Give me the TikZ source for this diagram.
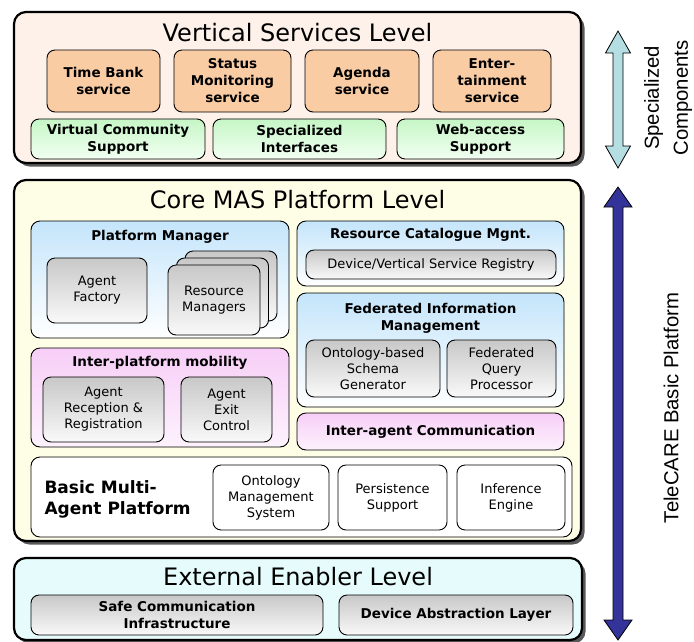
\documentclass[tikz,border=0pt]{standalone}
\usepackage{fontspec}
\setmainfont{DejaVu Sans}
\newfontfamily\arialFont{Liberation Sans}
\usepackage{tikz}
\usetikzlibrary{positioning}
\usetikzlibrary{shadows}
\definecolor{vertColor}{RGB}{253,241,233}
\definecolor{coreColor}{RGB}{254,253,230}
\definecolor{extColor}{RGB}{230,252,252}
\definecolor{orangeColor}{RGB}{250,204,164}
\definecolor{greenTopColor}{RGB}{198,246,198}
\definecolor{greenBotColor}{RGB}{242,255,242}
\definecolor{blueTopColor}{RGB}{196,229,251}
\definecolor{pinkTopColor}{RGB}{247,206,247}
\definecolor{pinkBotColor}{RGB}{253,242,253}
\definecolor{grayTopColor}{RGB}{200,200,200}
\definecolor{grayBotColor}{RGB}{249,249,249}
\definecolor{lightArrowColor}{RGB}{180,222,226}
\definecolor{darkArrowColor}{RGB}{51,51,153}
\newcommand*\titleFont{\fontsize{24}{28}\selectfont}
\newcommand*\headFont{\fontsize{13.5}{17}\selectfont\bfseries}
\newcommand*\plainFont{\fontsize{13}{16}\selectfont}
\newcommand*\sideFont{\arialFont\fontsize{20.3}{29}\selectfont}

\begin{document}
\begin{tikzpicture}[x=1pt,y=-1pt]

            \useasboundingbox (0,0) rectangle (694,641);

            \tikzstyle{levelBox} = [draw, line width=2.2pt, rounded corners=12pt, inner sep=0pt,
                drop shadow={shadow xshift=3.5pt, shadow yshift=-3.5pt, fill=black!65, opacity=1}];
            \tikzstyle{groupBox} = [draw, line width=0.9pt, rounded corners=9pt, inner sep=0pt];
            \tikzstyle{innerBox} = [draw, line width=0.9pt, rounded corners=8pt, inner sep=0pt, align=center];
            \tikzstyle{orangeBox} = [innerBox, fill=orangeColor, font=\headFont];
            \tikzstyle{greenBox} = [innerBox, top color=greenTopColor, bottom color=greenBotColor, font=\headFont];
            \tikzstyle{grayBox} = [innerBox, top color=grayTopColor, bottom color=grayBotColor, font=\plainFont];
            \tikzstyle{whiteBox} = [innerBox, fill=white, font=\plainFont];
            \tikzstyle{blueGroup} = [groupBox, top color=blueTopColor, bottom color=white];
            \tikzstyle{pinkGroup} = [groupBox, top color=pinkTopColor, bottom color=pinkBotColor];
            \tikzstyle{titleText} = [font=\titleFont, anchor=base];
            \tikzstyle{headText} = [font=\headFont, align=center];
            \tikzstyle{sideText} = [font=\sideFont, rotate=90, align=center];
            \tikzstyle{arrowShape} = [draw, line width=0.8pt, line join=miter];

            % vertical services
            \node[levelBox, fill=vertColor, minimum width=567pt, minimum height=151pt] (vert) at (297.5,87.5) {};
            \node[titleText] (vertTitle) at (297.5,41) {Vertical Services Level};
            \node[orangeBox, minimum width=113pt, minimum height=62pt] (timeBank) at (103.5,81) {Time Bank\\service};
            \node[orangeBox, minimum width=117pt, minimum height=62pt] (status) at (232.5,81) {Status\\Monitoring\\service};
            \node[orangeBox, minimum width=114pt, minimum height=62pt] (agenda) at (362,81) {Agenda\\service};
            \node[orangeBox, minimum width=118pt, minimum height=62pt] (enter) at (492,81) {Enter-\\tainment\\service};
            \node[greenBox, minimum width=174pt, minimum height=40pt] (community) at (118,139) {Virtual Community\\Support};
            \node[greenBox, minimum width=173pt, minimum height=40pt] (interfaces) at (299.5,139) {Specialized\\Interfaces};
            \node[greenBox, minimum width=167pt, minimum height=40pt] (webAccess) at (480.5,139) {Web-access\\Support};

            % core MAS platform
            \node[levelBox, fill=coreColor, minimum width=567pt, minimum height=361pt] (core) at (297.5,360.5) {};
            \node[titleText] (coreTitle) at (297.5,208) {Core MAS Platform Level};

            \node[blueGroup, minimum width=258pt, minimum height=117pt] (platMgr) at (160,279.5) {};
            \node[headText] (platMgrTitle) at (160,237) {Platform Manager};
            \node[grayBox, minimum width=100pt, minimum height=65pt] (factory) at (97,290.5) {Agent\\Factory};
            \node[grayBox, minimum width=92pt, minimum height=70pt] (resBack) at (231,286) {};
            \node[grayBox, minimum width=92pt, minimum height=70pt] (resMid) at (222.5,293) {};
            \node[grayBox, minimum width=92pt, minimum height=70pt] (resFront) at (214,300) {Resource\\Managers};

            \node[pinkGroup, minimum width=258pt, minimum height=99pt] (mobility) at (160,397.5) {};
            \node[headText] (mobilityTitle) at (160,363) {Inter-platform mobility};
            \node[grayBox, minimum width=121pt, minimum height=65pt] (reception) at (103.5,409.5) {Agent\\Reception \&\\Registration};
            \node[grayBox, minimum width=91pt, minimum height=65pt] (exit) at (226.5,409.5) {Agent\\Exit\\Control};

            \node[blueGroup, minimum width=267pt, minimum height=65pt] (catalogue) at (430.5,253.5) {};
            \node[headText] (catalogueTitle) at (430.5,235) {Resource Catalogue Mgnt.};
            \node[grayBox, minimum width=250pt, minimum height=29pt] (registry) at (431,264.5) {Device/Vertical Service Registry};

            \node[blueGroup, minimum width=267pt, minimum height=114pt] (fedInfo) at (430.5,350) {};
            \node[headText] (fedInfoTitle) at (430.5,318.5) {Federated Information\\Management};
            \node[grayBox, minimum width=134pt, minimum height=57pt] (schema) at (373,368.5) {Ontology-based\\Schema\\Generator};
            \node[grayBox, minimum width=109pt, minimum height=57pt] (query) at (501.5,368.5) {Federated\\Query\\Processor};

            \node[pinkGroup, minimum width=267pt, minimum height=37pt, font=\headFont] (interAgent) at (430.5,431.5) {Inter-agent Communication};

            \node[groupBox, fill=white, minimum width=541pt, minimum height=80pt] (basic) at (301.5,497) {};
            \node[font=\fontsize{17}{21}\selectfont\bfseries, align=left, anchor=west] (basicTitle) at (41,499) {Basic Multi-\\Agent Platform};
            \node[whiteBox, minimum width=116pt, minimum height=65pt] (ontology) at (271,497.5) {Ontology\\Management\\System};
            \node[whiteBox, minimum width=109pt, minimum height=65pt] (persistence) at (392.5,497.5) {Persistence\\Support};
            \node[whiteBox, minimum width=108pt, minimum height=65pt] (inference) at (511,497.5) {Inference\\Engine};

            % external enabler
            \node[levelBox, fill=extColor, minimum width=568pt, minimum height=82pt] (ext) at (298,599) {};
            \node[titleText] (extTitle) at (298,585) {External Enabler Level};
            \node[grayBox, font=\headFont, minimum width=292pt, minimum height=40pt] (safeComm) at (177,615) {Safe Communication\\Infrastructure};
            \node[grayBox, font=\headFont, minimum width=234pt, minimum height=40pt] (devAbstr) at (456,615) {Device Abstraction Layer};

            % side arrows
            \coordinate (specTop) at (618,31);
            \coordinate (specBottom) at (618,168);
            \draw[arrowShape, fill=lightArrowColor] (specTop) -- ++(12.5,22) -- ++(-7.5,0) |- ([xshift=5pt, yshift=22pt]specBottom)
                -- ++(7.5,0) -- (specBottom) -- ++(-12.5,-22) -- ++(7.5,0) |- ([xshift=-5pt, yshift=-22pt]specTop) -- ++(-7.5,0) -- cycle;
            \node[sideText] (specLabel) at (668,98) {Specialized\\Components};

            \coordinate (platTop) at (618,187);
            \coordinate (platBottom) at (618,640);
            \draw[arrowShape, fill=darkArrowColor] (platTop) -- ++(14,20) -- ++(-9,0) |- ([xshift=5pt, yshift=20pt]platBottom)
                -- ++(9,0) -- (platBottom) -- ++(-14,-20) -- ++(9,0) |- ([xshift=-5pt, yshift=-20pt]platTop) -- ++(-9,0) -- cycle;
            \node[sideText] (platLabel) at (671,408) {TeleCARE Basic Platform};

\end{tikzpicture}
\end{document}
